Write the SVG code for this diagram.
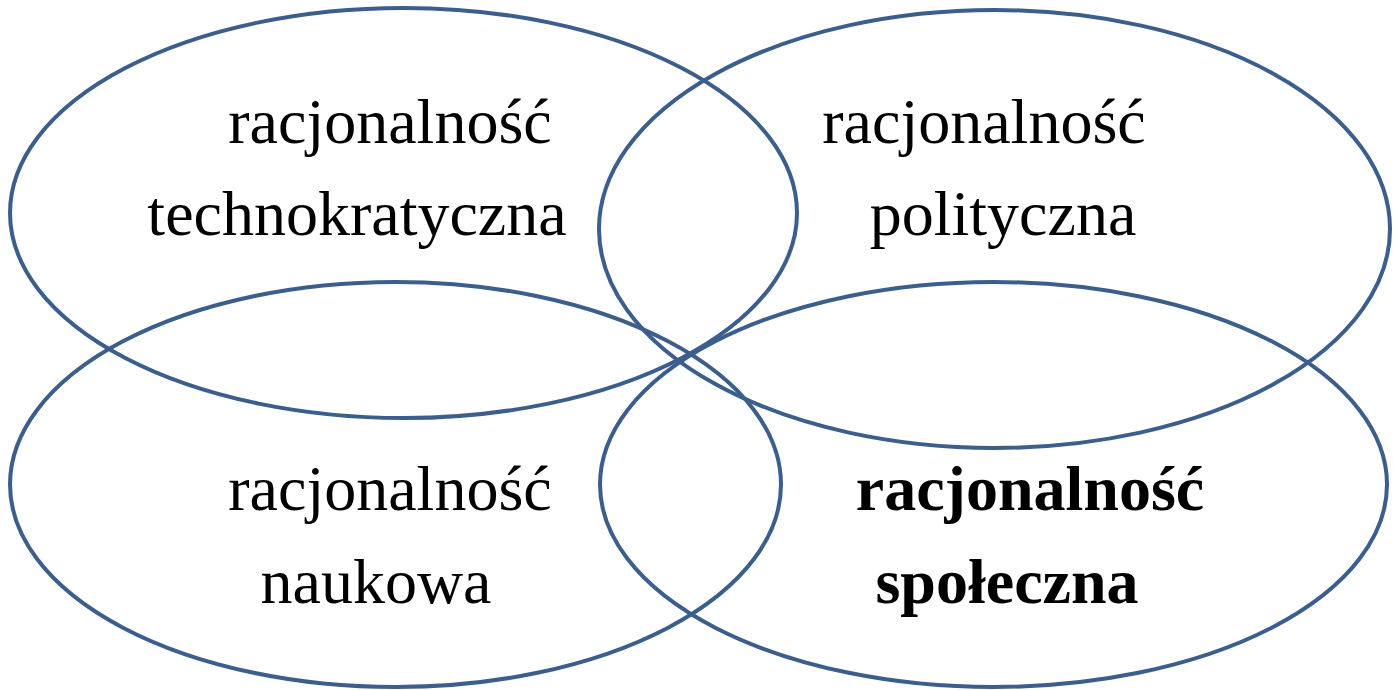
<svg xmlns="http://www.w3.org/2000/svg" width="1393" height="690" viewBox="0 0 1393 690">
<style>
.e{fill:none;stroke:#3B5E8C;stroke-width:4}
.t{font-family:"Liberation Serif","Times New Roman",serif;font-size:64px;fill:#000;text-anchor:middle}
.b{font-weight:bold}
</style>
<rect width="1393" height="690" fill="#fff"/>
<g id="technokratyczna">
<ellipse class="e" cx="403.5" cy="213" rx="393.5" ry="205"/>
<text class="t" x="390" y="143">racjonalność</text>
<text class="t" x="357" y="235">technokratyczna</text>
</g>
<g id="polityczna">
<ellipse class="e" cx="994.5" cy="229" rx="395.5" ry="219"/>
<text class="t" x="984" y="143">racjonalność</text>
<text class="t" x="1003" y="235">polityczna</text>
</g>
<g id="naukowa">
<ellipse class="e" cx="395.5" cy="484.5" rx="385.5" ry="202.5"/>
<text class="t" x="390" y="510">racjonalność</text>
<text class="t" x="376" y="603">naukowa</text>
</g>
<g id="spoleczna">
<ellipse class="e" cx="993.5" cy="484.5" rx="393.5" ry="202.5"/>
<text class="t b" x="1030" y="510">racjonalność</text>
<text class="t b" x="1007" y="603">społeczna</text>
</g>
<g id="connectors"/>
</svg>
